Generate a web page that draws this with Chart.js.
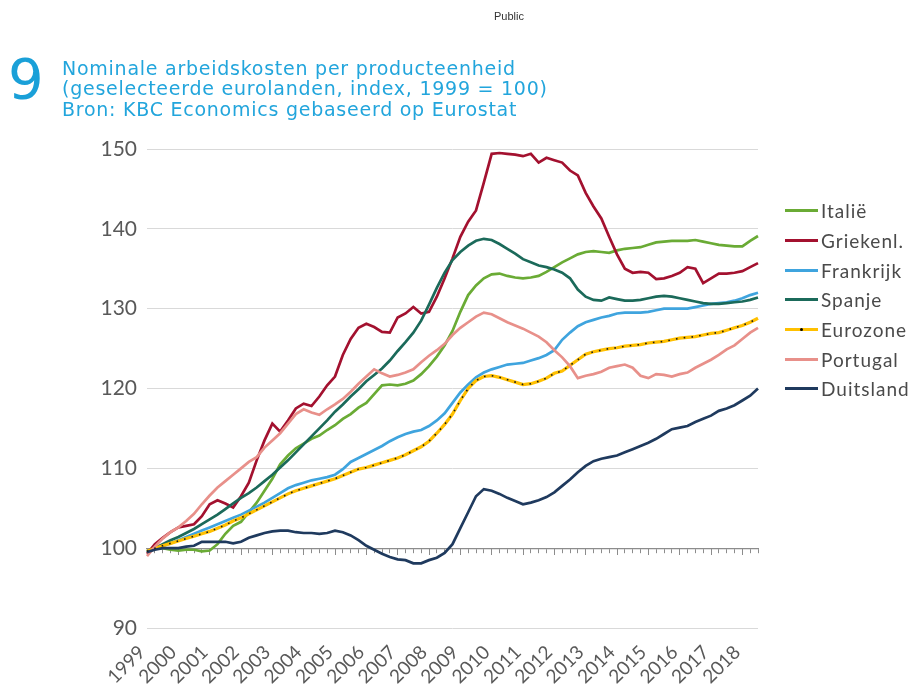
<!DOCTYPE html>
<html><head><meta charset="utf-8">
<script src="https://cdn.jsdelivr.net/npm/chart.js@4.4.1/dist/chart.umd.min.js"></script>
<style>
html,body{margin:0;padding:0;background:#fff;}
#wrap{position:relative;width:919px;height:693px;overflow:hidden;}
#c{position:absolute;left:0;top:0;}
.public{position:absolute;left:494px;top:10px;font:11px "Liberation Sans",sans-serif;color:#333;}
.num{position:absolute;left:8px;top:46px;font:56px "DejaVu Sans",sans-serif;color:#1aa0d8;}
.title{position:absolute;left:62px;top:58px;font:19px "DejaVu Sans",sans-serif;line-height:20.3px;letter-spacing:0.75px;color:#22a5dc;white-space:nowrap;}
#legend{position:absolute;left:785px;top:196px;}
.li{height:29.7px;display:flex;align-items:center;font:19px Lato,sans-serif;color:#4a4a4a;letter-spacing:1px;}
.sw{width:33px;height:3px;margin-right:3px;position:relative;}
.dot{position:absolute;left:15px;top:0;width:3px;height:3px;background:#000;border-radius:50%;}
</style></head>
<body><div id="wrap">
<canvas id="c" width="919" height="693"></canvas>
<div class="public">Public</div>
<div class="num">9</div>
<div class="title">Nominale arbeidskosten per producteenheid<br>(geselecteerde eurolanden, index, 1999 = 100)<br>Bron: KBC Economics gebaseerd op Eurostat</div>
<div id="legend"></div>
</div>
<script>
const years = [1999,2000,2001,2002,2003,2004,2005,2006,2007,2008,2009,2010,2011,2012,2013,2014,2015,2016,2017,2018];
const quarterCount = 79; // 1999K1 .. 2018K3
const quarterLabels = [];
for (let i = 0; i < quarterCount; i++) quarterLabels.push(years[Math.floor(i/4)] + 'K' + (i%4+1));

const seriesNames = ['Italië','Griekenl.','Frankrijk','Spanje','Eurozone','Portugal','Duitsland'];
const seriesColors = ['#6aab35','#a3112f','#3fa4de','#1b6a5a','#ffc000','#e8908a','#1f3a5e'];

const italie = [99.6,100,100,99.8,99.7,99.8,99.8,99.6,99.7,100.5,
101.8,102.8,103.3,104.5,105.7,107.2,108.7,110.5,111.6,112.5,
113.1,113.7,114.1,114.8,115.4,116.2,116.8,117.6,118.2,119.3,
120.4,120.5,120.4,120.6,121.0,121.8,122.8,124.0,125.4,127.2,
129.6,131.7,132.9,133.8,134.3,134.4,134.1,133.9,133.8,133.9,
134.1,134.6,135.2,135.8,136.3,136.8,137.1,137.2,137.1,137.0,
137.3,137.5,137.6,137.7,138.0,138.3,138.4,138.5,138.5,138.5,
138.6,138.4,138.2,138.0,137.9,137.8,137.8,138.5,139.1];

const griekenland = [99.3,100.5,101.3,102,102.6,102.8,103,104,105.5,106,
105.6,105.1,106.5,108.2,111,113.5,115.6,114.6,116,117.5,
118.1,117.8,119,120.4,121.5,124.2,126.2,127.6,128.1,127.7,
127.1,127.0,128.9,129.4,130.2,129.4,129.6,131.5,133.8,136.3,
139.0,140.9,142.3,145.8,149.4,149.5,149.4,149.3,149.1,149.4,
148.3,148.9,148.6,148.3,147.3,146.7,144.5,142.8,141.3,139,
136.8,135,134.5,134.6,134.5,133.7,133.8,134.1,134.5,135.2,
135.0,133.2,133.8,134.4,134.4,134.5,134.7,135.2,135.7];

const frankrijk = [99.5,100,100.3,100.6,101,101.4,101.8,102.2,102.6,103.0,
103.4,103.8,104.2,104.7,105.2,105.7,106.3,106.9,107.5,107.9,
108.2,108.5,108.7,108.9,109.2,109.9,110.8,111.3,111.8,112.3,
112.8,113.4,113.9,114.3,114.6,114.8,115.3,116.0,116.9,118.2,
119.5,120.5,121.4,122.0,122.4,122.7,123.0,123.1,123.2,123.5,
123.8,124.2,124.8,126.1,127.0,127.8,128.3,128.6,128.9,129.1,
129.4,129.5,129.5,129.5,129.6,129.8,130.0,130.0,130.0,130.0,
130.2,130.4,130.6,130.7,130.8,131.0,131.3,131.7,132.0];

const spanje = [99.5,100.0,100.5,101.0,101.4,101.9,102.4,103.0,103.6,104.2,
104.9,105.6,106.3,106.9,107.6,108.4,109.2,110.1,111.0,112.0,
113.0,114.0,115.0,116.0,117.1,118.0,119.0,119.9,120.9,121.7,
122.5,123.5,124.7,125.8,127.0,128.5,130.5,132.6,134.5,136.1,
137.1,137.9,138.5,138.75,138.6,138.1,137.5,136.9,136.2,135.8,
135.4,135.2,134.9,134.5,133.8,132.4,131.5,131.1,131.0,131.4,
131.2,131.0,131.0,131.1,131.3,131.5,131.6,131.5,131.3,131.1,
130.9,130.7,130.6,130.6,130.7,130.8,130.9,131.1,131.4];

const eurozone = [99.6,100,100.3,100.6,100.9,101.2,101.5,101.8,102.1,102.5,
102.9,103.4,103.8,104.3,104.8,105.3,105.8,106.3,106.8,107.2,
107.5,107.8,108.1,108.4,108.7,109.1,109.5,109.9,110.1,110.4,
110.7,111.0,111.3,111.7,112.2,112.7,113.4,114.4,115.5,116.8,
118.5,120.0,121.0,121.5,121.6,121.4,121.1,120.8,120.5,120.6,
120.9,121.3,121.9,122.2,122.9,123.6,124.3,124.6,124.8,125.0,
125.1,125.3,125.4,125.5,125.7,125.8,125.9,126.1,126.3,126.4,
126.5,126.7,126.9,127.0,127.3,127.6,127.9,128.3,128.8];

const portugal = [99.0,100.2,101.2,102.0,102.6,103.4,104.3,105.5,106.6,107.6,
108.4,109.2,110.0,110.8,111.4,112.6,113.5,114.4,115.6,116.8,
117.4,117.0,116.7,117.4,118.0,118.7,119.6,120.6,121.5,122.4,
121.9,121.5,121.7,122.0,122.4,123.3,124.1,124.8,125.6,126.7,
127.6,128.3,129.0,129.5,129.3,128.8,128.3,127.9,127.5,127.0,
126.5,125.8,124.8,123.9,122.8,121.3,121.6,121.8,122.1,122.6,
122.8,123.0,122.6,121.6,121.3,121.8,121.7,121.5,121.8,122.0,
122.6,123.1,123.6,124.2,124.9,125.4,126.2,127.0,127.6];

const duitsland = [99.5,99.8,100,100,100,100.2,100.3,100.8,100.8,100.8,
100.8,100.6,100.8,101.3,101.6,101.9,102.1,102.2,102.2,102.0,
101.9,101.9,101.8,101.9,102.2,102.0,101.6,101.0,100.3,99.8,
99.3,98.9,98.6,98.5,98.1,98.1,98.5,98.8,99.4,100.5,
102.5,104.5,106.5,107.4,107.2,106.8,106.3,105.9,105.5,105.7,
106.0,106.4,107.0,107.8,108.6,109.5,110.3,110.9,111.2,111.4,
111.6,112.0,112.4,112.8,113.2,113.7,114.3,114.9,115.1,115.3,
115.8,116.2,116.6,117.2,117.5,117.9,118.5,119.1,120.0];

const yTicks = [90,100,110,120,130,140,150];
const baseValue = 100;

const seriesData = [italie, griekenland, frankrijk, spanje, eurozone, portugal, duitsland];

const datasets = seriesData.map((d, k) => ({
  label: seriesNames[k],
  data: d,
  borderColor: seriesColors[k],
  backgroundColor: seriesColors[k],
  borderWidth: k === 4 ? 3.2 : 2.7,
  pointRadius: 0,
  tension: 0,
  order: 20 - k
}));
// black dotted overlay on the Eurozone line
datasets.push({
  label: 'Eurozone-dots',
  data: eurozone,
  borderColor: '#1a1a1a',
  borderWidth: 1.6,
  borderDash: [1.6, 6.2],
  pointRadius: 0,
  tension: 0,
  order: 0
});

// legend
const lg = document.getElementById('legend');
seriesNames.forEach((n, k) => {
  const li = document.createElement('div'); li.className = 'li';
  const sw = document.createElement('div'); sw.className = 'sw'; sw.style.background = seriesColors[k];
  if (k === 4) { const d = document.createElement('div'); d.className = 'dot'; sw.appendChild(d); }
  const tx = document.createElement('span'); tx.textContent = n;
  li.appendChild(sw); li.appendChild(tx); lg.appendChild(li);
});

new Chart(document.getElementById('c').getContext('2d'), {
  type: 'line',
  data: { labels: quarterLabels, datasets },
  options: {
    responsive: false,
    animation: false,
    layout: { padding: { top: 149, right: 161, left: 0, bottom: 0 } },
    plugins: { legend: { display: false }, tooltip: { enabled: false } },
    scales: {
      y: {
        min: yTicks[0], max: yTicks[yTicks.length-1],
        afterBuildTicks: s => { s.ticks = yTicks.map(v => ({ value: v })); },
        ticks: { padding: 10, color: '#595959', font: { family: 'Lato', size: 21 } },
        grid: { color: '#d9d9d9', lineWidth: 1, drawTicks: false },
        border: { display: false },
        afterFit: s => { s.width = 147; }
      },
      x: {
        type: 'category', position: 'bottom',
        grid: { display: false }, border: { display: false },
        ticks: {
          autoSkip: false, maxRotation: 45, minRotation: 45, padding: 5, labelOffset: -5,
          color: '#595959', font: { family: 'Lato', size: 19 },
          callback: (v, i) => (i % 4 === 0 ? String(years[i / 4]) : '')
        },
        afterFit: s => { s.height = 65; }
      },
      xBase: {
        axis: 'x', type: 'category', position: { y: baseValue },
        grid: { drawOnChartArea: false, tickLength: 4, color: '#8c8c8c', tickColor: '#8c8c8c' },
        border: { color: '#8c8c8c', width: 1.2 },
        ticks: { display: false }
      },
      xMajor: {
        axis: 'x', type: 'category', position: { y: baseValue },
        grid: { drawOnChartArea: false, tickLength: 7, tickColor: c => (c.index % 4 === 0 ? '#8c8c8c' : 'rgba(0,0,0,0)') },
        border: { display: false },
        ticks: { display: false }
      }
    }
  }
});
</script>
</body></html>
